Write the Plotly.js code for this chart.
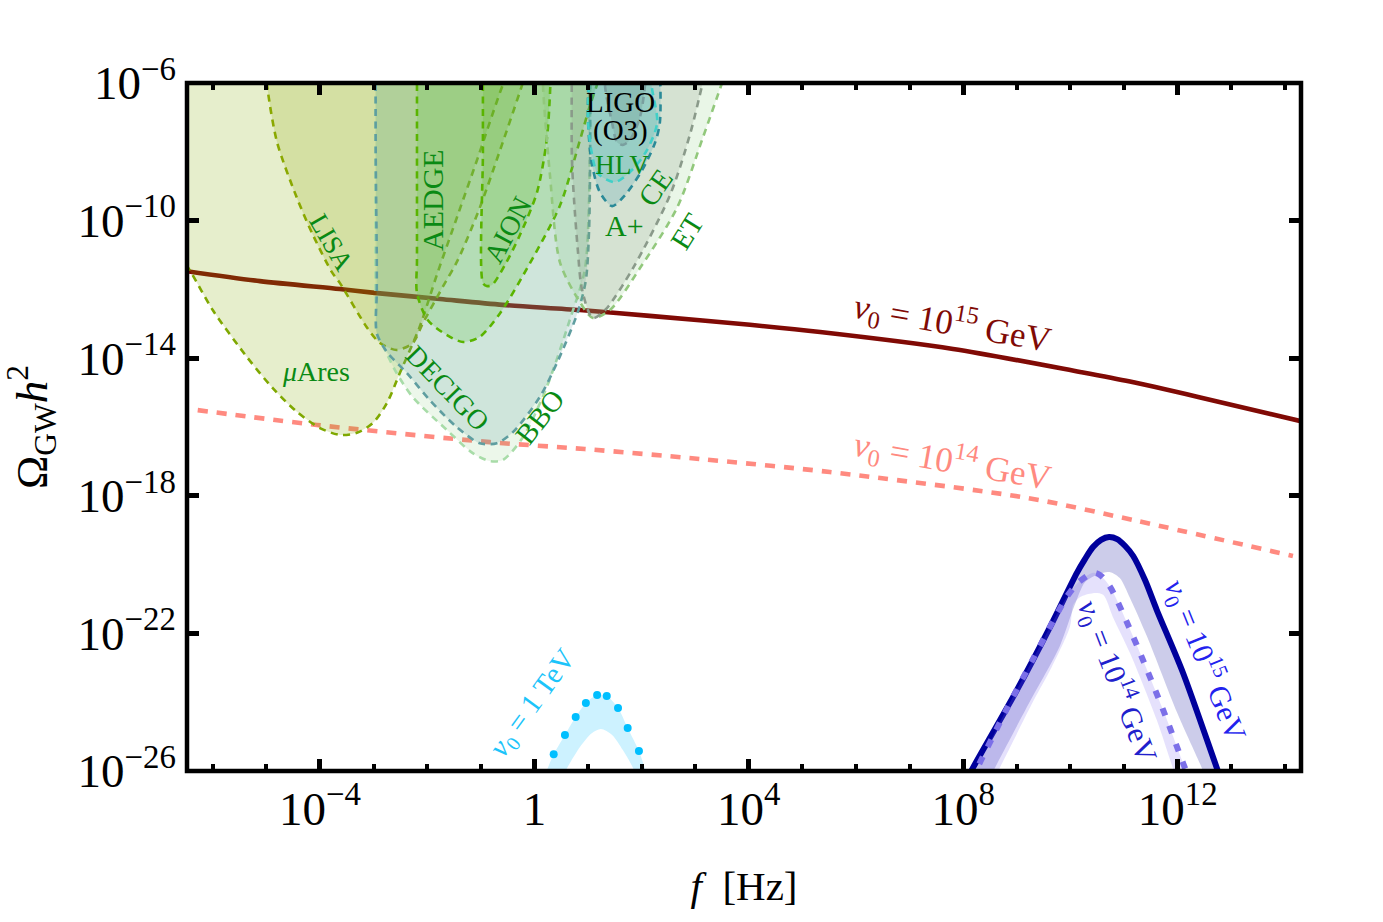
<!DOCTYPE html>
<html>
<head>
<meta charset="utf-8">
<script src="https://cdn.plot.ly/plotly-3.0.1.min.js"></script>
<style>
  html, body { margin: 0; padding: 0; background: #fff; }
  #chart { width: 1383px; height: 922px; }
</style>
</head>
<body>
<div id="chart"></div>
<script>
// All series are log10 values. Points past the frame
// only close the fills and get clipped by the axes.
var xTickVals = [1e-4, 1, 1e4, 1e8, 1e12];
var xTickText = ['10<sup>\u22124</sup>', '1', '10<sup>4</sup>', '10<sup>8</sup>', '10<sup>12</sup>'];
var xMinorVals = [1e-6, 1e-5, 1e-3, 1e-2, 1e-1, 1e1, 1e2, 1e3, 1e5, 1e6, 1e7, 1e9, 1e10, 1e11, 1e13, 1e14];
var yTickVals = [1e-6, 1e-10, 1e-14, 1e-18, 1e-22, 1e-26];
var yTickText = ['10<sup>\u22126</sup>', '10<sup>\u221210</sup>', '10<sup>\u221214</sup>', '10<sup>\u221218</sup>', '10<sup>\u221222</sup>', '10<sup>\u221226</sup>'];

var flat15F = [-6.48, -5.12, -3.63, -2.98, -1.76, -0.59, 0.85, 2.15, 4.02, 5.33, 7.81, 10.18, 11.11, 12.42, 14.30];
var flat15O = [-11.47, -11.76, -11.99, -12.10, -12.28, -12.45, -12.60, -12.77, -13.03, -13.24, -13.73, -14.40, -14.68, -15.14, -15.83];
var flat14F = [-6.28, -4.06, -0.83, 0.94, 3.09, 5.51, 9.19, 11.24, 14.15];
var flat14O = [-15.51, -15.94, -16.44, -16.64, -16.93, -17.31, -18.06, -18.73, -19.75];

var muAresF = [-7, -7, -6.43, -6.00, -5.36, -4.88, -4.43, -4.00, -3.63, -3.31, -3.01, -2.75, -2.51, -2.14, -1.82, -1.43, -1.05, -0.59, -0.40];
var muAresO = [-5, -10.1, -11.44, -12.60, -13.97, -14.87, -15.56, -16.03, -16.23, -16.17, -15.88, -15.30, -14.43, -13.09, -11.58, -9.84, -8.15, -6.06, -5.4];
var lisaF = [-5.01, -4.97, -4.80, -4.43, -4.13, -3.78, -3.63, -3.13, -2.88, -2.57, -2.27, -2.08, -1.71, -1.43, -1.02, -0.64, -0.23, -0.12];
var lisaO = [-5.62, -6.26, -7.72, -9.34, -10.42, -11.49, -11.81, -13.09, -13.56, -13.76, -13.56, -12.98, -11.93, -11.15, -9.63, -7.95, -6.06, -5.48];
var bboF = [-2.96, -2.96, -2.94, -2.83, -2.57, -2.27, -1.63, -1.15, -0.83, -0.59, -0.21, 0.23, 0.66, 0.94, 1.02, 1.04];
var bboO = [-5.3, -12.5, -13.27, -13.62, -14.43, -15.13, -16.09, -16.76, -16.99, -16.96, -16.29, -14.84, -12.89, -11.44, -9.40, -5.3];
var decigoF = [-2.96, -2.96, -2.94, -2.94, -2.94, -2.75, -2.38, -1.95, -1.45, -1.02, -0.70, -0.40, 0.10, 0.42, 0.81, 0.96, 1.02, 1.04, 1.04];
var decigoO = [-5.3, -8, -11.15, -12.10, -13.27, -13.82, -14.43, -15.22, -16.0, -16.47, -16.47, -16.15, -15.13, -14.14, -12.66, -11.73, -10.27, -7.95, -5.3];
var aedgeF = [-2.19, -2.19, -2.19, -2.19, -1.99, -1.63, -1.33, -1.02, -0.64, -0.08, 0.48, 0.85, 1.04, 1.18, 1.32];
var aedgeO = [-5.3, -8, -11.15, -12.10, -12.89, -13.33, -13.53, -13.38, -12.69, -11.23, -9.55, -7.66, -6.64, -6, -5.33];
var aionF = [-0.96, -0.96, -0.96, -0.89, -0.79, -0.55, -0.27, 0.05, 0.23, 0.29, 0.31];
var aionO = [-5.3, -8, -11.81, -11.90, -11.87, -11.29, -10.42, -9.17, -7.66, -6.35, -5.33];
var etF = [0.16, 0.16, 0.29, 0.48, 0.85, 1.09, 1.41, 1.97, 2.66, 3.14, 3.50, 3.65];
var etO = [-5.33, -6.06, -8.67, -11.23, -12.37, -12.83, -12.60, -11.38, -9.63, -7.60, -6, -5.33];
var ceF = [0.70, 0.70, 0.74, 0.81, 0.89, 1.09, 1.32, 1.84, 2.53, 2.90, 3.13, 3.24];
var ceO = [-5.33, -8.2, -9.40, -10.85, -12.02, -12.83, -12.60, -11.38, -9.26, -7.51, -6.06, -5.33];
var aPlusF = [1.02, 1.00, 1.07, 1.22, 1.45, 1.69, 2.01, 2.25, 2.34, 2.34];
var aPlusO = [-5.33, -7.08, -8.33, -9.17, -9.58, -9.26, -8.53, -7.74, -7.16, -5.33];
var hlvF = [1.04, 1.00, 1.07, 1.18, 1.50, 1.82, 2.10, 2.29, 2.19, 2.15];
var hlvO = [-5.33, -7.08, -8.03, -8.62, -8.88, -8.53, -7.95, -7.16, -6.12, -5.33];
var o3F = [1.32, 1.32, 1.45, 1.54, 1.65, 1.78, 1.97, 2.06, 2.10];
var o3O = [-5.33, -6.12, -7.16, -7.72, -7.80, -7.66, -6.99, -6.12, -5.33];

var peak15F = [8.05, 8.18, 9.00, 9.62, 10.12, 10.27, 10.42, 10.57, 10.72, 10.87, 11.02, 11.17, 11.39, 11.61, 12.10, 12.73, 12.82];
var peak15O = [-26.29, -25.91, -23.65, -21.81, -20.24, -19.84, -19.49, -19.28, -19.20, -19.26, -19.46, -19.75, -20.45, -21.32, -23.15, -25.91, -26.29];
var peak15LowF = [8.46, 8.59, 9.24, 9.80, 10.08, 10.27, 10.49, 10.74, 10.92, 11.11, 11.43, 11.99, 12.45, 12.55];
var peak15LowO = [-26.29, -25.91, -23.99, -22.37, -21.17, -20.51, -20.30, -20.22, -20.39, -20.97, -22.10, -24.31, -25.91, -26.29];
var peak14F = [8.14, 8.80, 9.32, 9.93, 10.14, 10.42, 10.55, 10.74, 11.05, 11.33, 11.73, 12.10, 12.23];
var peak14O = [-26.29, -24.23, -22.69, -20.94, -20.53, -20.24, -20.30, -20.65, -21.67, -22.69, -24.23, -25.77, -26.29];
var peak14LowF = [8.55, 8.68, 9.30, 9.65, 9.99, 10.05, 10.18, 10.42, 10.61, 10.79, 11.11, 11.61, 11.91, 12.00];
var peak14LowO = [-26.29, -25.91, -23.99, -22.98, -21.81, -21.17, -20.94, -20.83, -20.88, -21.52, -22.57, -24.52, -25.91, -26.29];

var tevDotsF = [0.36, 0.57, 0.77, 0.96, 1.17, 1.35, 1.56, 1.74, 1.95];
var tevDotsO = [-25.51, -24.95, -24.43, -24.02, -23.79, -23.82, -24.17, -24.75, -25.42];
var tevTopF = [0.16, 0.25, 0.36, 0.57, 0.77, 0.96, 1.17, 1.35, 1.56, 1.74, 1.95, 2.06, 2.15];
var tevTopO = [-26.29, -25.91, -25.51, -24.95, -24.43, -24.02, -23.79, -23.82, -24.17, -24.75, -25.42, -25.91, -26.29];
var tevLowF = [0.48, 0.61, 0.85, 1.07, 1.24, 1.45, 1.65, 1.84, 1.93];
var tevLowO = [-26.29, -25.91, -25.30, -24.90, -24.78, -24.95, -25.39, -25.91, -26.29];

var GREEN = '#0a8a14';
var V15 = '<i>v</i><sub>0</sub> = 10<sup>15</sup> GeV';
var V14 = '<i>v</i><sub>0</sub> = 10<sup>14</sup> GeV';
var labels = [
  { text: 'LISA', x: -3.78, y: -10.65, a: 60, c: GREEN, s: 27 },
  { text: 'AEDGE', x: -1.89, y: -9.40, a: -90, c: GREEN, s: 30 },
  { text: 'AION', x: -0.49, y: -10.27, a: -62, c: GREEN, s: 28 },
  { text: 'LIGO', x: 1.60, y: -6.55, a: 0, c: '#000', s: 29 },
  { text: '(O3)', x: 1.60, y: -7.37, a: 0, c: '#000', s: 29 },
  { text: 'HLV', x: 1.63, y: -8.38, a: 0, c: GREEN, s: 27.5 },
  { text: 'CE', x: 2.25, y: -9.05, a: -55, c: GREEN, s: 29 },
  { text: 'A+', x: 1.69, y: -10.13, a: 0, c: GREEN, s: 30 },
  { text: 'ET', x: 2.85, y: -10.30, a: -58, c: GREEN, s: 29 },
  { text: '<i>\u03bc</i>Ares', x: -4.08, y: -14.40, a: 0, c: GREEN, s: 28 },
  { text: 'DECIGO', x: -1.61, y: -14.87, a: 46, c: GREEN, s: 28 },
  { text: 'BBO', x: 0.10, y: -15.71, a: -52, c: GREEN, s: 29 },
  { text: V15, x: 7.79, y: -12.95, a: 10, c: '#800a05', s: 35 },
  { text: V14, x: 7.79, y: -16.96, a: 10, c: '#ff8a80', s: 35 },
  { text: V15, x: 12.51, y: -22.77, a: 68, c: '#2222ee', s: 30 },
  { text: V14, x: 10.87, y: -23.38, a: 69, c: '#2020cc', s: 30 },
  { text: '<i>v</i><sub>0</sub> = 1 TeV', x: -0.01, y: -24.03, a: -54, c: '#1cc4fa', s: 29 }
];

function pow10(a) {
  return a.map(function (v) { return Math.pow(10, v); });
}

function curve(f, o, color, width, dash) {
  return {
    x: pow10(f), y: pow10(o),
    mode: 'lines',
    line: { color: color, width: width, dash: dash || 'solid', shape: 'spline', smoothing: 0.8, simplify: false },
    hoverinfo: 'skip'
  };
}

function region(f, o, fill, color) {
  var t = curve(f, o, color, 2.6, '7px,5.5px');
  t.fill = 'toself';
  t.fillcolor = fill;
  return t;
}

function band(topF, topO, lowF, lowO, fill) {
  var t = curve(topF.concat(lowF.slice().reverse()), topO.concat(lowO.slice().reverse()), fill, 0);
  t.fill = 'toself';
  t.fillcolor = fill;
  return t;
}

var traces = [
  curve(flat15F, flat15O, '#800a05', 4.6),
  curve(flat14F, flat14O, '#ff8a80', 4.6, '10px,9px'),

  region(muAresF, muAresO, 'rgba(128,170,0,0.2)', '#7fa800'),
  region(lisaF, lisaO, 'rgba(140,170,0,0.2)', '#8aa800'),
  region(bboF, bboO, 'rgba(109,193,93,0.13)', '#a8dca8'),
  region(decigoF, decigoO, 'rgba(95,158,160,0.2)', '#5f9ea0'),
  region(aedgeF, aedgeO, 'rgba(100,200,70,0.25)', '#5ab400'),
  region(aionF, aionO, 'rgba(80,180,0,0.18)', '#5ab400'),
  region(etF, etO, 'rgba(109,193,93,0.15)', '#92c87c'),
  region(ceF, ceO, 'rgba(137,148,128,0.2)', '#8a9a8a'),
  region(aPlusF, aPlusO, 'rgba(50,150,170,0.2)', '#2a8a98'),
  region(hlvF, hlvO, 'rgba(40,190,180,0.2)', '#40d0c8'),
  region(o3F, o3O, 'rgba(90,130,120,0.2)', '#7a9f9f'),

  band(tevTopF, tevTopO, tevLowF, tevLowO, '#cdf2ff'),
  {
    x: pow10(tevDotsF), y: pow10(tevDotsO),
    mode: 'markers',
    marker: { color: '#00bfff', size: 8 },
    hoverinfo: 'skip'
  },

  band(peak15F, peak15O, peak15LowF, peak15LowO, 'rgba(0,0,150,0.2)'),
  curve(peak15F, peak15O, '#00009c', 6),
  band(peak14F, peak14O, peak14LowF, peak14LowO, 'rgba(123,104,238,0.2)'),
  curve(peak14F, peak14O, '#7b6fe8', 6, '8px,11px')
];

var annotations = labels.map(function (l) {
  return {
    text: l.text, x: l.x, y: l.y, xref: 'x', yref: 'y',
    showarrow: false, textangle: l.a,
    font: { family: 'Liberation Serif', size: l.s, color: l.c }
  };
});

var layout = {
  width: 1383,
  height: 922,
  showlegend: false,
  paper_bgcolor: '#fff',
  plot_bgcolor: '#fff',
  font: { family: 'Liberation Serif', color: '#000', size: 47 },
  margin: { l: 187, r: 82, t: 83, b: 151 },
  xaxis: {
    type: 'log',
    range: [-6.48, 14.3],
    tickmode: 'array',
    tickvals: xTickVals,
    ticktext: xTickText,
    ticks: 'inside',
    ticklen: 12,
    tickwidth: 4.5,
    tickcolor: '#000',
    minor: { tickmode: 'array', tickvals: xMinorVals, ticks: 'inside', ticklen: 7, tickwidth: 4, tickcolor: '#000', showgrid: false },
    ticklabelstandoff: 6,
    showline: false,
    mirror: 'allticks',
    showgrid: false,
    zeroline: false,
    title: { text: '<i>f</i>\u00a0\u00a0[Hz]', font: { size: 41 }, standoff: 37 }
  },
  yaxis: {
    type: 'log',
    range: [-26, -6],
    tickmode: 'array',
    tickvals: yTickVals,
    ticktext: yTickText,
    ticks: 'inside',
    ticklen: 12,
    tickwidth: 4.5,
    tickcolor: '#000',
    ticklabelstandoff: 10,
    showline: false,
    mirror: 'allticks',
    showgrid: false,
    zeroline: false,
    title: { text: '\u03a9<sub>GW</sub><i>h</i><sup>2</sup>', font: { size: 45 }, standoff: 30 }
  },
  shapes: [{
    type: 'rect', xref: 'paper', yref: 'paper',
    x0: 0, x1: 1, y0: 0, y1: 1,
    line: { color: '#000', width: 4.5 },
    layer: 'above'
  }],
  annotations: annotations
};

Plotly.newPlot('chart', traces, layout, { displayModeBar: false, responsive: false });
</script>
</body>
</html>
